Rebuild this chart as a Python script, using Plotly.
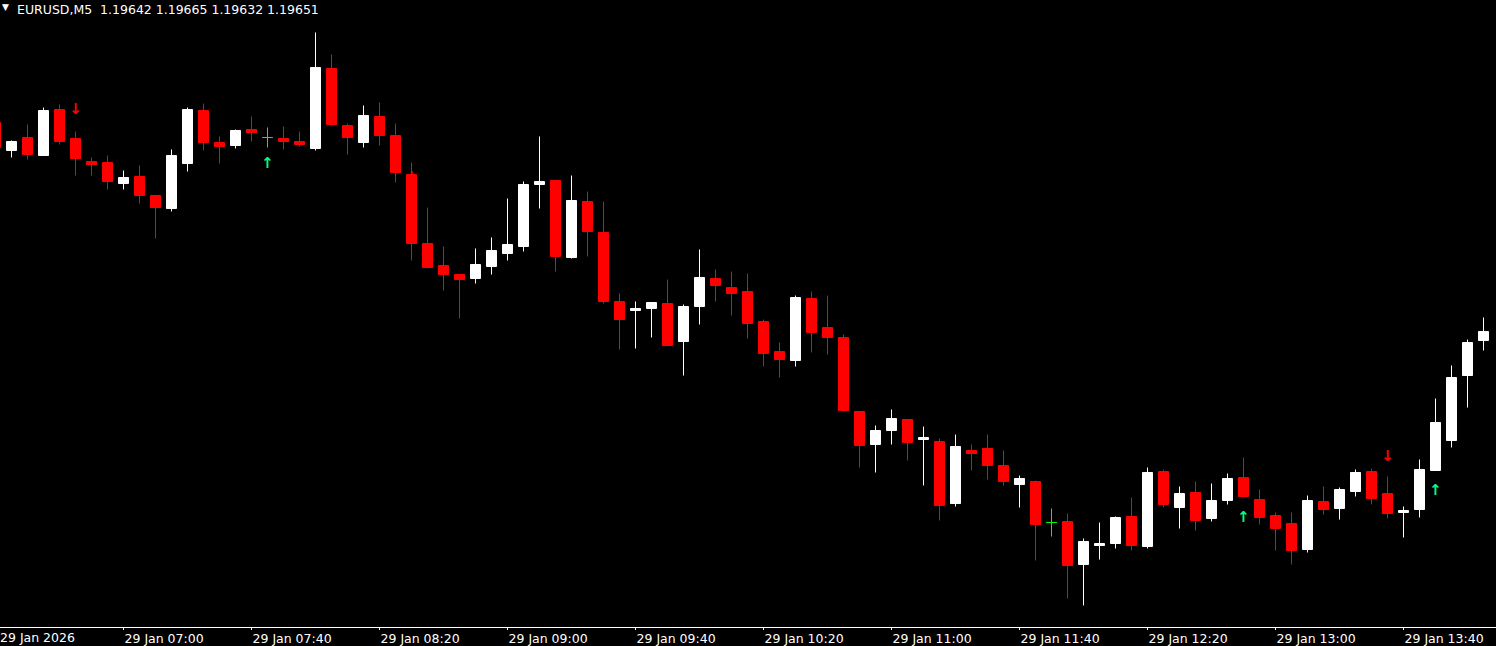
import plotly.graph_objects as go
import pandas as pd

symbol_title = "EURUSD,M5  1.19642 1.19665 1.19632 1.19651"
start_time = "2026-01-29 06:20"

opens = [1.19860, 1.19832, 1.19845, 1.19827, 1.19873, 1.19844, 1.19821, 1.19820, 1.19799, 1.19806,
         1.19787, 1.19774, 1.19819, 1.19872, 1.19840, 1.19837, 1.19853, 1.19845, 1.19844, 1.19841,
         1.19834, 1.19914, 1.19857, 1.19840, 1.19866, 1.19847, 1.19808, 1.19739, 1.19717, 1.19708,
         1.19704, 1.19716, 1.19729, 1.19736, 1.19798, 1.19802, 1.19725, 1.19781, 1.19750, 1.19681,
         1.19672, 1.19674, 1.19679, 1.19641, 1.19676, 1.19704, 1.19695, 1.19691, 1.19661, 1.19631,
         1.19622, 1.19684, 1.19655, 1.19645, 1.19571, 1.19538, 1.19552, 1.19563, 1.19543, 1.19541,
         1.19479, 1.19532, 1.19534, 1.19517, 1.19498, 1.19501, 1.19460, 1.19461, 1.19418, 1.19437,
         1.19439, 1.19466, 1.19436, 1.19511, 1.19475, 1.19490, 1.19464, 1.19482, 1.19505, 1.19483,
         1.19467, 1.19459, 1.19433, 1.19481, 1.19474, 1.19491, 1.19511, 1.19489, 1.19470, 1.19473,
         1.19512, 1.19542, 1.19607, 1.19642]
highs = [1.19864, 1.19842, 1.19858, 1.19875, 1.19878, 1.19851, 1.19825, 1.19827, 1.19812, 1.19817,
         1.19787, 1.19833, 1.19875, 1.19879, 1.19846, 1.19853, 1.19866, 1.19855, 1.19856, 1.19851,
         1.19950, 1.19928, 1.19859, 1.19877, 1.19880, 1.19859, 1.19820, 1.19775, 1.19736, 1.19708,
         1.19734, 1.19745, 1.19784, 1.19801, 1.19846, 1.19802, 1.19807, 1.19791, 1.19781, 1.19689,
         1.19681, 1.19680, 1.19703, 1.19678, 1.19733, 1.19713, 1.19711, 1.19709, 1.19663, 1.19640,
         1.19687, 1.19691, 1.19687, 1.19648, 1.19571, 1.19557, 1.19573, 1.19563, 1.19556, 1.19544,
         1.19548, 1.19538, 1.19548, 1.19532, 1.19507, 1.19502, 1.19474, 1.19469, 1.19444, 1.19460,
         1.19466, 1.19485, 1.19515, 1.19513, 1.19496, 1.19501, 1.19499, 1.19509, 1.19525, 1.19493,
         1.19470, 1.19470, 1.19487, 1.19496, 1.19495, 1.19513, 1.19514, 1.19506, 1.19476, 1.19523,
         1.19584, 1.19617, 1.19643, 1.19665]
lows = [1.19832, 1.19825, 1.19823, 1.19827, 1.19838, 1.19807, 1.19807, 1.19793, 1.19793, 1.19779,
        1.19744, 1.19771, 1.19811, 1.19832, 1.19819, 1.19834, 1.19841, 1.19835, 1.19833, 1.19836,
        1.19832, 1.19857, 1.19828, 1.19835, 1.19837, 1.19800, 1.19722, 1.19715, 1.19692, 1.19664,
        1.19699, 1.19708, 1.19722, 1.19731, 1.19774, 1.19711, 1.19724, 1.19726, 1.19679, 1.19633,
        1.19634, 1.19645, 1.19637, 1.19607, 1.19658, 1.19681, 1.19667, 1.19644, 1.19616, 1.19605,
        1.19616, 1.19630, 1.19628, 1.19571, 1.19515, 1.19510, 1.19538, 1.19522, 1.19497, 1.19462,
        1.19476, 1.19512, 1.19503, 1.19497, 1.19475, 1.19422, 1.19446, 1.19384, 1.19377, 1.19423,
        1.19434, 1.19432, 1.19434, 1.19475, 1.19454, 1.19452, 1.19461, 1.19478, 1.19486, 1.19458,
        1.19432, 1.19418, 1.19430, 1.19468, 1.19463, 1.19486, 1.19478, 1.19464, 1.19445, 1.19465,
        1.19512, 1.19535, 1.19575, 1.19632]
closes = [1.19835, 1.19841, 1.19828, 1.19872, 1.19841, 1.19824, 1.19818, 1.19801, 1.19805, 1.19787,
          1.19775, 1.19827, 1.19873, 1.19840, 1.19836, 1.19852, 1.19850, 1.19845, 1.19841, 1.19838,
          1.19915, 1.19858, 1.19845, 1.19867, 1.19847, 1.19810, 1.19739, 1.19715, 1.19708, 1.19703,
          1.19718, 1.19732, 1.19738, 1.19798, 1.19801, 1.19726, 1.19782, 1.19751, 1.19681, 1.19663,
          1.19674, 1.19680, 1.19637, 1.19676, 1.19705, 1.19697, 1.19689, 1.19659, 1.19629, 1.19623,
          1.19685, 1.19650, 1.19645, 1.19572, 1.19537, 1.19552, 1.19564, 1.19540, 1.19545, 1.19477,
          1.19536, 1.19529, 1.19517, 1.19501, 1.19504, 1.19458, 1.19460, 1.19417, 1.19441, 1.19439,
          1.19465, 1.19437, 1.19510, 1.19478, 1.19489, 1.19462, 1.19482, 1.19504, 1.19486, 1.19465,
          1.19454, 1.19432, 1.19482, 1.19473, 1.19493, 1.19510, 1.19484, 1.19469, 1.19472, 1.19513,
          1.19560, 1.19605, 1.19640, 1.19651]

# signal arrows (bar time, price level)
sell_times = ["2026-01-29 06:45", "2026-01-29 08:30", "2026-01-29 13:35"]
sell_levels = [1.19872, 1.19804, 1.19525]
buy_times = ["2026-01-29 07:45", "2026-01-29 12:50", "2026-01-29 13:50"]
buy_levels = [1.19818, 1.19464, 1.19491]

date_label = "29 Jan 2026"
tick_times = ["2026-01-29 07:00", "2026-01-29 07:40", "2026-01-29 08:20",
              "2026-01-29 09:00", "2026-01-29 09:40", "2026-01-29 10:20", "2026-01-29 11:00",
              "2026-01-29 11:40", "2026-01-29 12:20", "2026-01-29 13:00", "2026-01-29 13:40"]
tick_labels = ["29 Jan 07:00", "29 Jan 07:40", "29 Jan 08:20", "29 Jan 09:00",
               "29 Jan 09:40", "29 Jan 10:20", "29 Jan 11:00", "29 Jan 11:40", "29 Jan 12:20",
               "29 Jan 13:00", "29 Jan 13:40"]

times = pd.date_range(start_time, periods=len(opens), freq="5min")
df = pd.DataFrame({"t": times, "o": opens, "h": highs, "l": lows, "c": closes})
bull = df[df.c > df.o]
bear = df[df.c < df.o]
doji = df[df.c == df.o]

FONT = "DejaVu Sans"
fig = go.Figure()


def add_candles(d, color):
    fig.add_trace(go.Candlestick(
        x=d.t, open=d.o, high=d.h, low=d.l, close=d.c,
        increasing=dict(line=dict(color=color, width=1), fillcolor=color),
        decreasing=dict(line=dict(color=color, width=1), fillcolor=color),
        whiskerwidth=0, showlegend=False, hoverinfo="skip"))


add_candles(bull, "#FFFFFF")
add_candles(bear, "#FF0000")
add_candles(doji, "#00FF00")

fig.add_trace(go.Scatter(x=sell_times, y=sell_levels, mode="text", text=["↓"] * len(sell_times),
                         textfont=dict(family=FONT, size=15, color="#FF0000", weight="bold"),
                         showlegend=False, hoverinfo="skip"))
fig.add_trace(go.Scatter(x=buy_times, y=buy_levels, mode="text", text=["↑"] * len(buy_times),
                         textfont=dict(family=FONT, size=15, color="#00FF7F", weight="bold"),
                         showlegend=False, hoverinfo="skip"))

fig.update_layout(
    width=1496, height=646,
    margin=dict(l=0, r=0, t=0, b=19),
    paper_bgcolor="#000000", plot_bgcolor="#000000",
    boxmode="overlay", boxgap=0.375, boxgroupgap=0,
    hovermode=False,
    font=dict(family=FONT, size=12.5, color="#FFFFFF"),
    xaxis=dict(
        type="date",
        range=["2026-01-29 06:21:24.375", "2026-01-29 14:08:54.375"],
        rangeslider=dict(visible=False),
        tickmode="array", tickvals=tick_times, ticktext=tick_labels,
        ticklabelposition="outside right",
        ticks="outside", ticklen=2, tickcolor="#FFFFFF", tickwidth=1,
        showline=True, linecolor="#FFFFFF", linewidth=1,
        showgrid=False, zeroline=False,
        tickfont=dict(family=FONT, size=12.5, color="#FFFFFF"),
    ),
    yaxis=dict(range=[1.193555, 1.199825], visible=False, showgrid=False, zeroline=False),
    annotations=[
        dict(text="▼", xref="paper", yref="paper", x=0.0, y=1, xanchor="left", yanchor="top",
             xshift=0, yshift=0, showarrow=False, font=dict(family=FONT, size=9, color="#FFFFFF")),
        dict(text=symbol_title, xref="paper", yref="paper", x=15 / 1496, y=1,
             xanchor="left", yanchor="top", showarrow=False,
             font=dict(family=FONT, size=12.5, color="#FFFFFF")),
        dict(text=date_label, xref="paper", yref="paper", x=0, y=0,
             xanchor="left", yanchor="top", xshift=-1, yshift=-2, showarrow=False,
             borderpad=0,
             font=dict(family=FONT, size=12.5, color="#FFFFFF")),
    ],
)

fig.write_html("out.html", config={"displayModeBar": False},
               post_script="document.body.style.margin='0';document.body.style.background='#000';")
